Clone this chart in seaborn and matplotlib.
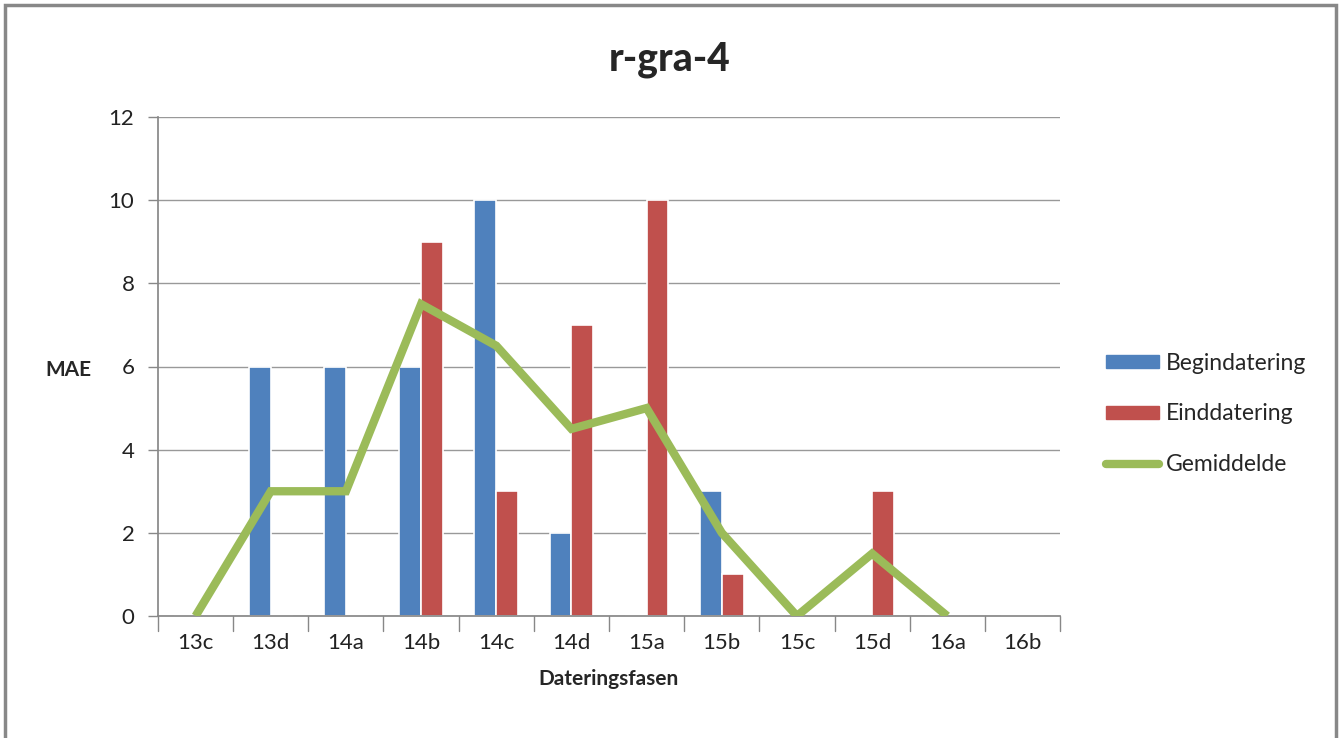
import matplotlib
matplotlib.use("Agg")
import matplotlib.pyplot as plt
import seaborn as sns
import pandas as pd
import numpy as np
from matplotlib.patches import Rectangle
from matplotlib.lines import Line2D

categories = ["13c", "13d", "14a", "14b", "14c", "14d", "15a", "15b", "15c", "15d", "16a", "16b"]
begin = [0, 6, 6, 6, 10, 2, 0, 3, 0, 0, 0, 0]
eind = [0, 0, 0, 9, 3, 7, 10, 1, 0, 3, 0, 0]
gemiddelde = [0, 3, 3, 7.5, 6.5, 4.5, 5, 2, 0, 1.5, 0, np.nan]
yticks = [0, 2, 4, 6, 8, 10, 12]

sns.set_theme(style="white")
plt.rcParams['font.family'] = ['Lato', 'DejaVu Sans']

df = pd.DataFrame({
    "fase": categories * 2,
    "MAE": begin + eind,
    "serie": ["Begindatering"] * len(categories) + ["Einddatering"] * len(categories),
})

fig = plt.figure(figsize=(13.39, 7.38), dpi=100)
ax = fig.add_axes([158/1339, 1-616/738, (1060-158)/1339, (616-117)/738])

blue, red, green = "#4F81BD", "#C0504D", "#9BBB59"
sns.barplot(data=df, x="fase", y="MAE", hue="serie", order=categories,
            hue_order=["Begindatering", "Einddatering"],
            palette=[blue, red], saturation=1, width=0.58, edgecolor="white", linewidth=1.2,
            ax=ax, legend=False)
x = np.arange(len(categories))
ax.plot(x, gemiddelde, color=green, lw=6, solid_capstyle="butt", solid_joinstyle="miter", zorder=5)

ax.set_xlim(-0.5, len(categories) - 0.5)
ax.set_ylim(0, 12)
ax.set_yticks(yticks)
ax.set_yticklabels([str(v) for v in yticks], fontsize=16, color="#222222")
ax.set_xticks(x)
ax.set_xticklabels(categories, fontsize=16, color="#222222")
ax.tick_params(axis="x", length=0, pad=12)
ax.tick_params(axis="y", length=7, color="#888888", width=1, left=True, pad=10)
for xb in np.arange(-0.5, len(categories) + 0.5, 1):
    ax.plot([xb, xb], [0, -0.35], color="#888888", lw=1, clip_on=False, transform=ax.transData)
ax.grid(axis="y", color="#999999", lw=1)
ax.set_axisbelow(True)
for s in ["top", "right"]:
    ax.spines[s].set_visible(False)
ax.spines["left"].set_color("#888888")
ax.spines["bottom"].set_color("#888888")
ax.set_xlabel("Dateringsfasen", fontsize=15, fontweight="bold", labelpad=12)
ax.set_ylabel("")
fig.text(68/1339, 1-370/738, "MAE", fontsize=15, fontweight="bold", ha="center", va="center")
fig.text(670/1339, 1-60/738, "r-gra-4", fontsize=28, fontweight="black", ha="center", va="center")

handles = [Rectangle((0, 0), 1, 1, color=blue), Rectangle((0, 0), 1, 1, color=red),
           Line2D([0], [0], color=green, lw=6, solid_capstyle="round")]
fig.legend(handles, ["Begindatering", "Einddatering", "Gemiddelde"],
           loc="center left", bbox_to_anchor=(1097/1339, 1-414/738), frameon=False,
           fontsize=16.5, handlelength=2.3, handleheight=0.5, handletextpad=0.3,
           labelspacing=1.3, borderaxespad=0)

fig.patches.append(Rectangle((5/1339, -0.1), (1336-5)/1339, 1.1-5/738, transform=fig.transFigure,
                             fill=False, edgecolor="#888888", lw=2.5))
fig.savefig("out.png", dpi=100)
